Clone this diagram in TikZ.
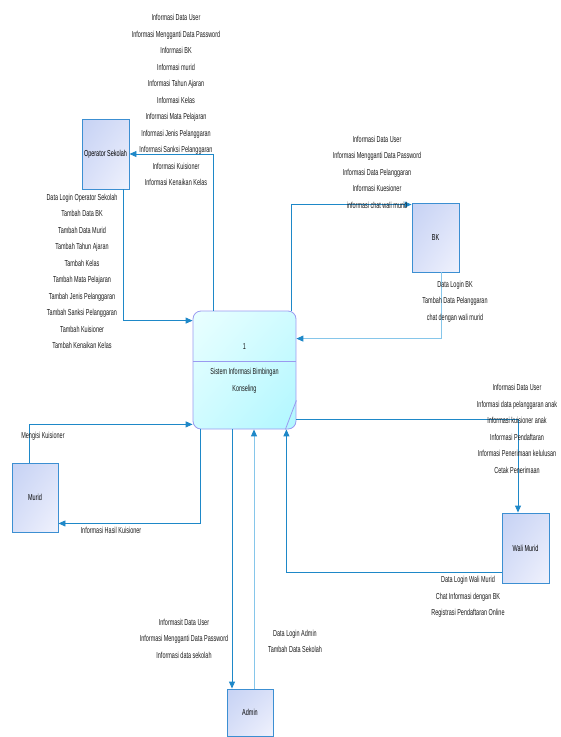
\documentclass[tikz,border=0pt]{standalone}
\usepackage{fontspec}
\setmainfont{Liberation Sans}[FakeStretch=0.63]
\usetikzlibrary{arrows.meta,shadings}
\definecolor{flowblue}{HTML}{1E88C8}
\definecolor{flowlight}{HTML}{86C6EA}
\definecolor{entityedge}{HTML}{3C8FD2}
\definecolor{entitydark}{HTML}{C6D2F4}
\definecolor{entitymid}{HTML}{D9E0F8}
\definecolor{entitylight}{HTML}{F0F2FD}
\definecolor{procedge}{HTML}{9A9AF0}
\definecolor{proclight}{HTML}{EAFFFF}
\definecolor{procmid}{HTML}{CFFBFF}
\definecolor{procdark}{HTML}{B0F7FF}

\begin{document}
\begin{tikzpicture}[x=1pt, y=-1pt, >={Triangle[length=7pt,width=6pt,color=flowblue]},
    font=\fontsize{8.7}{16.5}\selectfont]
    \tikzstyle{entity}=[draw=entityedge, line width=0.9pt, inner sep=0pt,
      upper left=entitydark, upper right=entitymid, lower left=entitymid,
      lower right=entitylight, minimum width=47pt, minimum height=70pt]
    \tikzstyle{process}=[draw=procedge, line width=0.8pt, rounded corners=8pt,
      upper left=proclight, upper right=procmid, lower left=procmid,
      lower right=procdark, minimum width=103pt, minimum height=118pt]
    \tikzstyle{flow}=[->, draw=flowblue, line width=0.9pt]
    \tikzstyle{flowpale}=[->, draw=flowlight, line width=0.9pt]
    \tikzstyle{lbl}=[align=center, inner sep=0pt, text=black!90]
    \useasboundingbox (0,0) rectangle (561,737);

    % process
    \node[process] (proc) at (244.5,370) {};
    \draw[procedge, line width=0.8pt] (proc.west |- 0,361) -- (proc.east |- 0,361);
    \draw[procedge, line width=0.8pt] ([yshift=29pt]proc.south east) -- ([xshift=-11pt]proc.south east);
    \node[lbl] (procnum) at (244.5,347) {1};
    \node[lbl] (proctitle) at (244.5,380.5) {Sistem Informasi Bimbingan\\Konseling};

    % entities
    \node[entity] (op) at (105.5,154) {Operator Sekolah};
    \node[entity, minimum height=69pt] (bk) at (435.5,237.5) {BK};
    \node[entity] (wali) at (525.5,548) {Wali Murid};
    \node[entity, minimum width=46pt, minimum height=69pt] (murid) at (35,497.5) {Murid};
    \node[entity, minimum width=46pt, minimum height=47pt] (admin) at (250,712.5) {Admin};

    % flows
    \draw[flow] ([xshift=-31.5pt]proc.north) |- (op.east);
    \draw[flow] ([xshift=17.5pt]op.south) |- ([yshift=-10pt]proc.north west);
    \draw[flow] ([xshift=-5pt]proc.north east) |- ([yshift=-2pt]bk.north west);
    \draw[flowpale] ([xshift=5.5pt]bk.south) |- ([yshift=-28pt]proc.north east);
    \draw[flow] ([yshift=10pt]proc.south east) -| ([xshift=-7.5pt]wali.north);
    \draw[flow] ([yshift=11pt]wali.south west) -| ([xshift=-10pt]proc.south east);
    \draw[flow] ([xshift=-6pt]murid.north) |- ([yshift=5pt]proc.south west);
    \draw[flow] ([xshift=8pt]proc.south west) |- ([yshift=9pt]murid.south east);
    \draw[flow] ([xshift=-12.5pt]proc.south) -- ([xshift=-18pt]admin.north);
    \draw[flowpale] ([xshift=4pt]admin.north) -- ([xshift=9.5pt]proc.south);

    % flow labels
    \node[lbl] (oplabout) at (176,100) {Informasi Data User\\Informasi Mengganti Data Password\\Informasi BK\\Informasi murid\\Informasi Tahun Ajaran\\Informasi Kelas\\Informasi Mata Pelajaran\\Informasi Jenis Pelanggaran\\Informasi Sanksi Pelanggaran\\Informasi Kuisioner\\Informasi Kenaikan Kelas};
    \node[lbl] (oplabin) at (82,271.5) {Data Login Operator Sekolah\\Tambah Data BK\\Tambah Data Murid\\Tambah Tahun Ajaran\\Tambah Kelas\\Tambah Mata Pelajaran\\Tambah Jenis Pelanggaran\\Tambah Sanksi Pelanggaran\\Tambah Kuisioner\\Tambah Kenaikan Kelas};
    \node[lbl] (bklabout) at (377,172) {Informasi Data User\\Informasi Mengganti Data Password\\Informasi Data Pelanggaran\\Informasi Kuesioner\\informasi chat wali murid};
    \node[lbl] (bklabin) at (455,301.5) {Data Login BK\\Tambah Data Pelanggaran\\chat dengan wali murid};
    \node[lbl] (walilabout) at (517,429) {Informasi Data User\\Informasi data pelanggaran anak\\Informasi kuisioner anak\\Informasi Pendaftaran\\Informasi Penerimaan kelulusan\\Cetak Penerimaan};
    \node[lbl] (walilabin) at (468,597) {Data Login Wali Murid\\Chat Informasi dengan BK\\Registrasi Pendaftaran Online};
    \node[lbl] (adminlabout) at (184,638.5) {Informasit Data User\\Informasi Mengganti Data Password\\Informasi data sekolah};
    \node[lbl] (adminlabin) at (295,641.5) {Data Login Admin\\Tambah Data Sekolah};
    \node[lbl] (muridlabin) at (43,436) {Mengisi Kuisioner};
    \node[lbl] (muridlabout) at (111,530) {Informasi Hasil Kuisioner};
\end{tikzpicture}
\end{document}
